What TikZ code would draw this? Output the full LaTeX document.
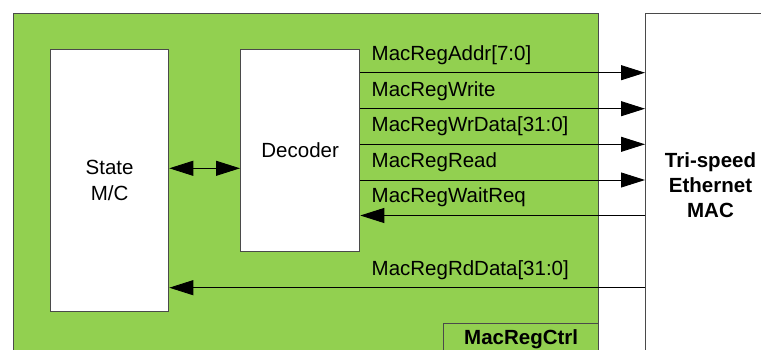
\documentclass[tikz,border=0pt]{standalone}
\usepackage{fontspec}
\setmainfont{Liberation Sans}
\usetikzlibrary{arrows.meta}
\definecolor{fillgreen}{HTML}{92D050}
\definecolor{edgegray}{HTML}{4A4A4A}
\begin{document}
\begin{tikzpicture}[x=1pt,y=-1pt,
  txt/.style={font=\fontsize{20.5}{25.5}\selectfont},
  box/.style={draw=edgegray, line width=1.3pt, fill=white, rectangle, inner sep=0pt, anchor=north west},
  lbl/.style={txt, anchor=base west, inner sep=0pt},
  sig/.style={draw=black, line width=0.9pt, -{Triangle[length=24pt,width=15pt]}},
  sigboth/.style={draw=black, line width=0.9pt, {Triangle[length=24pt,width=15pt]}-{Triangle[length=24pt,width=15pt]}}]
\useasboundingbox (0,0) rectangle (761,350);
\clip (0,0) rectangle (761,350);
\fill[white] (0,0) rectangle (761,350);
% frames
\node[box, fill=fillgreen, minimum width=585pt, minimum height=400pt] (frame) at (13,13) {};
\node[box, minimum width=300pt, minimum height=400pt] (mac) at (645,13) {};
\node[txt, align=center, font=\fontsize{20.5}{25}\selectfont\bfseries] (mactext) at (710.5,185) {Tri-speed\\Ethernet\\MAC};
\node[box, minimum width=118pt, minimum height=262pt, txt, align=center] (state) at (50,49) {State\\M/C};
\node[box, minimum width=119pt, minimum height=202pt, txt] (dec) at (240,49) {Decoder};
\node[box, fill=fillgreen, minimum width=155pt, minimum height=32pt, txt, font=\fontsize{20.5}{25.5}\selectfont\bfseries] (ctrl) at (443,323) {MacRegCtrl};
% connectors
\draw[sigboth] (state.east |- 0,168.3) -- (dec.west |- 0,168.3);
\draw[sig] (dec.east |- 0,72.7) -- (mac.west |- 0,72.7);
\draw[sig] (dec.east |- 0,108.7) -- (mac.west |- 0,108.7);
\draw[sig] (dec.east |- 0,144.3) -- (mac.west |- 0,144.3);
\draw[sig] (dec.east |- 0,180) -- (mac.west |- 0,180);
\draw[sig] (mac.west |- 0,215.5) -- (dec.east |- 0,215.5);
\draw[sig] (mac.west |- 0,287.7) -- (state.east |- 0,287.7);
% labels
\node[lbl] (l1) at (371.5,60.7) {MacRegAddr[7:0]};
\node[lbl] (l2) at (371.5,96.3) {MacRegWrite};
\node[lbl] (l3) at (371.5,131.7) {MacRegWrData[31:0]};
\node[lbl] (l4) at (371.5,167.3) {MacRegRead};
\node[lbl] (l5) at (371.5,203) {MacRegWaitReq};
\node[lbl] (l6) at (371.5,275.7) {MacRegRdData[31:0]};
\end{tikzpicture}
\end{document}
